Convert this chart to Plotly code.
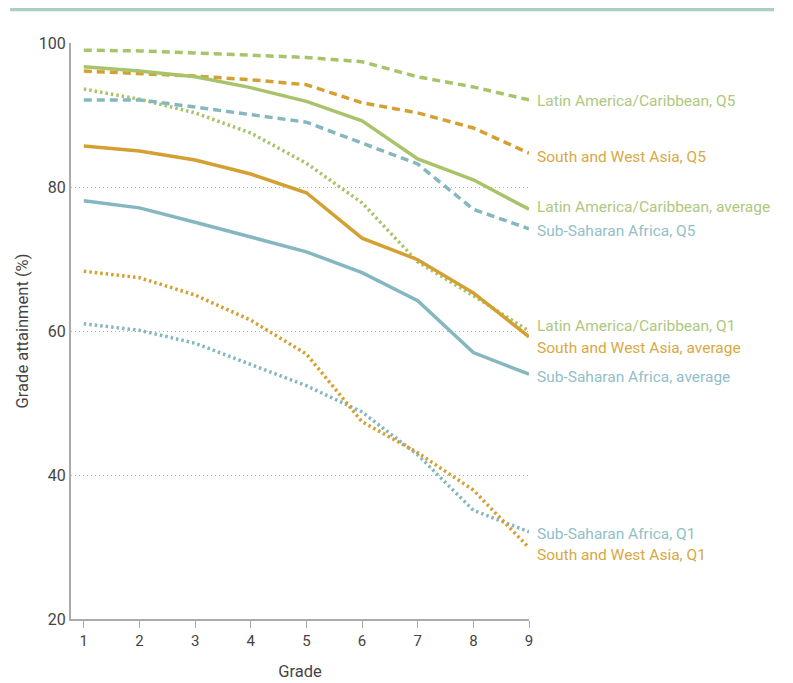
import plotly.graph_objects as go

grades = [1, 2, 3, 4, 5, 6, 7, 8, 9]

lac_q5 = [99.0, 98.9, 98.6, 98.3, 98.0, 97.4, 95.3, 93.9, 92.1]
lac_avg = [96.7, 96.1, 95.3, 93.8, 91.9, 89.2, 83.9, 81.0, 76.9]
lac_q1 = [93.6, 92.2, 90.3, 87.5, 83.3, 77.8, 69.6, 64.9, 60.0]
swa_q5 = [96.1, 95.8, 95.4, 94.9, 94.2, 91.7, 90.3, 88.2, 84.7]
swa_avg = [85.7, 85.0, 83.75, 81.8, 79.2, 72.9, 69.9, 65.3, 59.2]
swa_q1 = [68.3, 67.4, 65.0, 61.5, 56.8, 47.4, 43.1, 37.9, 29.9]
ssa_q5 = [92.1, 92.1, 91.1, 90.0, 89.0, 86.1, 83.2, 76.9, 74.2]
ssa_avg = [78.1, 77.1, 75.1, 73.1, 71.0, 68.1, 64.2, 57.0, 54.0]
ssa_q1 = [61.0, 60.1, 58.3, 55.3, 52.4, 48.75, 42.8, 35.1, 32.1]

GREEN = "#a8c46a"
ORANGE = "#d4a032"
BLUE = "#84b7c0"
GREEN_T = "#aec87e"
ORANGE_T = "#d8a844"
BLUE_T = "#92bfc8"

DASH = "8px,5px"
DOT = "2.5px,3px"

series = [
    ("Latin America/Caribbean, Q1", lac_q1, GREEN, DOT, GREEN_T, 60.7),
    ("Sub-Saharan Africa, Q1", ssa_q1, BLUE, DOT, BLUE_T, 31.8),
    ("South and West Asia, Q1", swa_q1, ORANGE, DOT, ORANGE_T, 28.9),
    ("Sub-Saharan Africa, Q5", ssa_q5, BLUE, DASH, BLUE_T, 73.9),
    ("South and West Asia, Q5", swa_q5, ORANGE, DASH, ORANGE_T, 84.2),
    ("Latin America/Caribbean, Q5", lac_q5, GREEN, DASH, GREEN_T, 91.9),
    ("Sub-Saharan Africa, average", ssa_avg, BLUE, "solid", BLUE_T, 53.6),
    ("South and West Asia, average", swa_avg, ORANGE, "solid", ORANGE_T, 57.6),
    ("Latin America/Caribbean, average", lac_avg, GREEN, "solid", GREEN_T, 77.2),
]

fig = go.Figure()
for name, vals, col, dash, tcol, ly in series:
    fig.add_trace(go.Scatter(x=grades, y=vals, mode="lines", name=name,
                             line=dict(color=col, width=3.5, dash=dash),
                             showlegend=False, hoverinfo="skip"))
    fig.add_annotation(x=9, y=ly, xref="x", yref="y", text=name,
                       showarrow=False, xanchor="left", xshift=6,
                       font=dict(color=tcol, size=15.5))

# top decorative bar
fig.add_shape(type="line", xref="paper", yref="paper",
              x0=-0.133, x1=1.535, y0=1.059, y1=1.059,
              line=dict(color="#a9d0bd", width=4.5))

fig.update_layout(
    width=793, height=683,
    margin=dict(l=63, r=272, t=35, b=72),
    paper_bgcolor="white", plot_bgcolor="white",
    font=dict(family="Roboto, sans-serif", color="#444444", size=14),
    xaxis=dict(range=[0.77, 9.0], tickvals=grades, ticks="outside", ticklen=7,
               tickcolor="#aaaaaa", showline=True, linecolor="#aaaaaa", linewidth=2,
               showgrid=False, zeroline=False,
               title=dict(text="Grade", standoff=16, font=dict(size=16.5)),
               tickfont=dict(size=15)),
    yaxis=dict(range=[20, 100], tickvals=[20, 40, 60, 80, 100],
               showline=True, linecolor="#aaaaaa", linewidth=2,
               showgrid=True, gridcolor="#b4b4b4", griddash="1px,3px", gridwidth=1,
               zeroline=False, ticks="",
               title=dict(text="Grade attainment (%)", standoff=6, font=dict(size=16.5)),
               tickfont=dict(size=16)),
)

fig.write_html("out.html")
